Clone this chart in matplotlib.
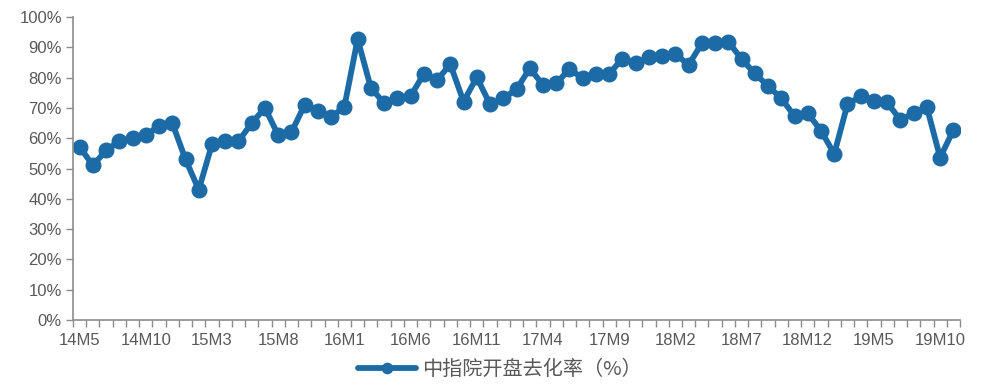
import numpy as np
import matplotlib.pyplot as plt
from matplotlib.ticker import FixedLocator, PercentFormatter

plt.rcParams['font.family'] = ['Liberation Sans', 'Noto Sans CJK SC', 'DejaVu Sans']

# 月份标签（每5个月标注一次），共67个月 14M5 - 19M11
months = []
y, m = 14, 5
for _ in range(67):
    months.append('%dM%d' % (y, m))
    m += 1
    if m > 12:
        m = 1
        y += 1
tick_labels = months[::5]

# 中指院开盘去化率（%）
rate = [57.2, 51.0, 56.0, 59.0, 60.0, 61.0, 64.0, 65.0, 53.0, 43.0,
        58.0, 59.0, 59.0, 65.0, 70.0, 61.0, 62.0, 71.0, 69.0, 67.0,
        70.4, 92.7, 76.6, 71.6, 73.2, 73.9, 81.2, 79.2, 84.4, 72.1,
        80.1, 71.2, 73.2, 76.1, 83.1, 77.6, 78.1, 82.8, 79.8, 81.2,
        81.2, 86.3, 84.7, 86.7, 87.1, 87.8, 84.2, 91.3, 91.3, 91.9,
        86.1, 81.4, 77.2, 73.2, 67.3, 68.2, 62.5, 54.8, 71.2, 73.9,
        72.4, 71.8, 66.0, 68.2, 70.2, 53.6, 62.7]

blue = '#1C6BA6'
grey_axis = '#8C8C8C'
grey_text = '#595959'

fig = plt.figure(figsize=(9.84, 3.85), dpi=100)
ax = fig.add_axes([0.0742, 0.1688, 0.9014, 0.787])

x = np.arange(len(rate))
ax.plot(x, rate, color=blue, lw=4.2, marker='o', ms=10.5,
        label='中指院开盘去化率（%）', solid_capstyle='round')

ax.set_xlim(-0.5, len(rate) - 0.5)
ax.set_ylim(0, 100)
ax.set_yticks(np.arange(0, 101, 10))
ax.yaxis.set_major_formatter(PercentFormatter(decimals=0))

ax.set_xticks(x[::5])
ax.set_xticklabels(tick_labels)
ax.xaxis.set_minor_locator(FixedLocator(np.arange(-0.5, len(rate), 1)))
ax.tick_params(axis='x', which='major', length=0, pad=9, labelsize=12, labelcolor=grey_text)
ax.tick_params(axis='x', which='minor', length=5, width=1, color=grey_axis, direction='out')
ax.tick_params(axis='y', length=5, width=1, color=grey_axis, labelsize=12,
               labelcolor=grey_text, pad=3)

for s in ['top', 'right']:
    ax.spines[s].set_visible(False)
for s in ['left', 'bottom']:
    ax.spines[s].set_color(grey_axis)
    ax.spines[s].set_linewidth(1.2)

leg = fig.legend(loc='lower center', bbox_to_anchor=(0.508, -0.035), frameon=False,
                 handlelength=2.9, handletextpad=0.3, markerscale=0.7,
                 prop={'family': ['Noto Sans CJK SC'], 'size': 14.5})
for t in leg.get_texts():
    t.set_color(grey_text)

fig.savefig('out.png', dpi=100)
